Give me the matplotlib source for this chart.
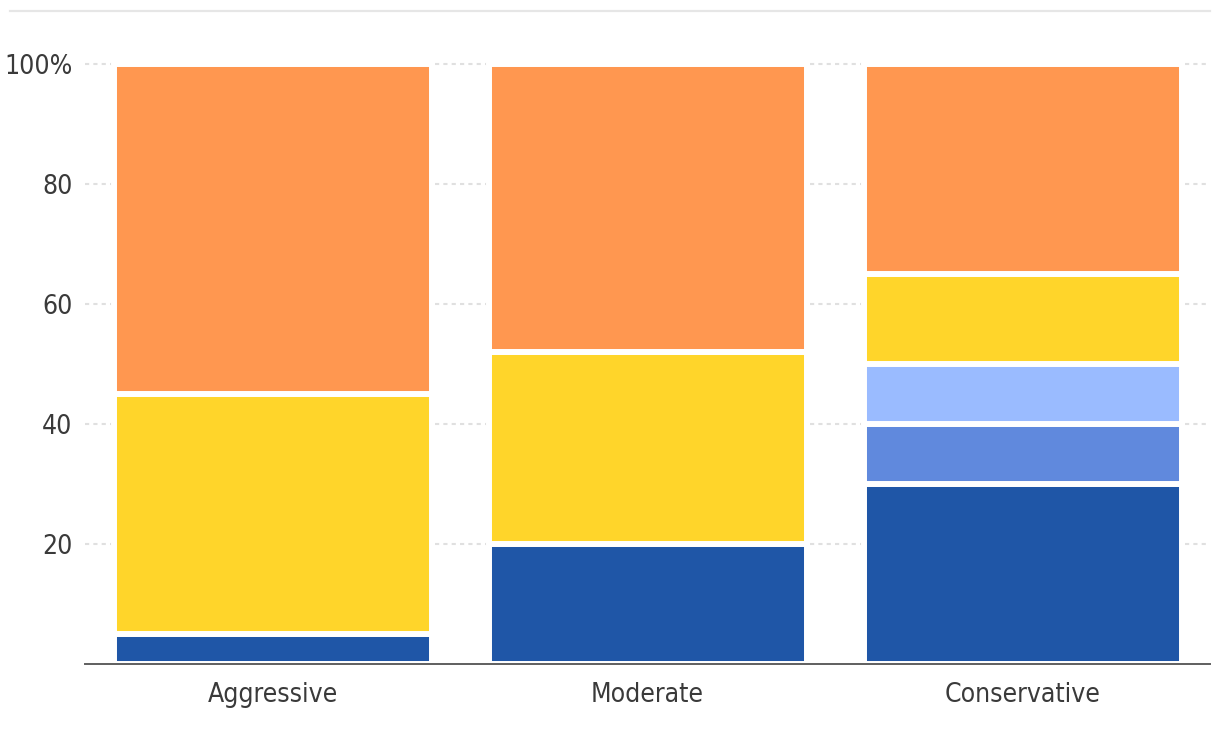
import matplotlib
matplotlib.use('Agg')
import matplotlib.pyplot as plt
from matplotlib.lines import Line2D
import numpy as np

categories = ['Aggressive', 'Moderate', 'Conservative']
# stacked from the bottom up
dark_blue = [5, 20, 30]
mid_blue = [0, 0, 10]
light_blue = [0, 0, 10]
yellow = [40, 32, 15]
orange = [55, 48, 35]

yticks = [20, 40, 60, 80, 100]
ytick_labels = ['20', '40', '60', '80', '100%']

series = [dark_blue, mid_blue, light_blue, yellow, orange]
colors = ['#1f56a7', '#6089dd', '#9abbff', '#ffd52a', '#ff9750']

plt.rcParams['font.family'] = ['DejaVu Sans']

fig = plt.figure(figsize=(12.2, 7.36), dpi=100)
H = 736.0
ax = fig.add_axes([85 / 1220, (H - 663.7) / H, 1125 / 1220, (663.7 - 51.5) / H])

x = np.arange(len(categories))
bottom = np.zeros(len(categories))
for vals, col in zip(series, colors):
    vals = np.array(vals, dtype=float)
    ax.bar(x, vals, width=0.848, bottom=bottom, color=col,
           edgecolor='white', linewidth=4.3)
    bottom += vals

ax.set_xlim(-0.5, 2.5)
ax.set_ylim(0, 102)
ax.set_yticks(yticks)
ax.set_yticklabels(ytick_labels)
ax.set_xticks(x)
ax.set_xticklabels(categories)

ax.set_axisbelow(True)
ax.yaxis.grid(True, color='#e0e0e0', linewidth=1.5, linestyle=(0, (2.0, 2.0)))
for s in ['top', 'right', 'left']:
    ax.spines[s].set_visible(False)
ax.spines['bottom'].set_color('#5f5f5f')
ax.spines['bottom'].set_linewidth(1.4)
ax.spines['bottom'].set_zorder(5)

ax.tick_params(axis='both', length=0, labelsize=19, labelcolor='#3a3a3a')
ax.tick_params(axis='y', pad=9)
ax.tick_params(axis='x', pad=13)
for lab in ax.get_xticklabels() + ax.get_yticklabels():
    lab.set_fontstretch('condensed')

# thin rule across the top
fig.add_artist(Line2D([10 / 1220, 1210 / 1220], [1 - 11 / H, 1 - 11 / H],
                      color='#e6e6e6', linewidth=1.6, transform=fig.transFigure))

plt.savefig('out.png', dpi=100)
